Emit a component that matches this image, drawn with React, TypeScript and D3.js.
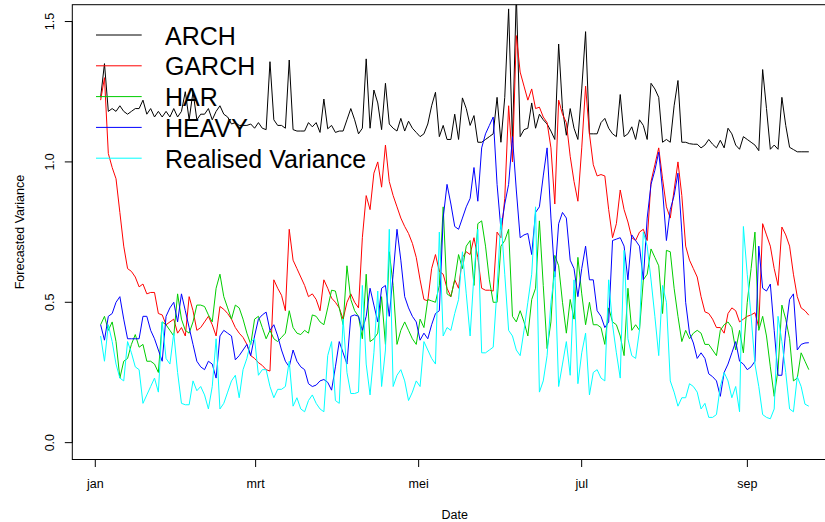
import React from 'react';
import * as d3 from 'd3';

const startDate = '2012-01-03';
const endDate = '2012-09-24';
const monthTicks = ['2012-01-01', '2012-03-01', '2012-05-01', '2012-07-01', '2012-09-01'];
const monthLabels = ['jan', 'mrt', 'mei', 'jul', 'sep'];
const yTicks = [0, 0.5, 1.0, 1.5];
const yLimits = [0, 1.5];
const seriesNames = ['ARCH', 'GARCH', 'HAR', 'HEAVY', 'Realised Variance'];
const seriesColors = ['#000000', '#FF0000', '#00CD00', '#0000FF', '#00FFFF'];

const arch = [
  1.23, 1.35, 1.18, 1.19, 1.18, 1.20, 1.18, 1.17, 1.18, 1.19,
  1.19, 1.22, 1.17, 1.19, 1.16, 1.18, 1.16, 1.18, 1.16, 1.19,
  1.16, 1.18, 1.25, 1.15, 1.25, 1.15, 1.17, 1.17, 1.19, 1.15,
  1.18, 1.20, 1.17, 1.16, 1.135, 1.14, 1.13, 1.13, 1.13, 1.135,
  1.12, 1.14, 1.12, 1.115, 1.357, 1.15, 1.13, 1.13, 1.12, 1.363,
  1.115, 1.11, 1.11, 1.11, 1.14, 1.125, 1.14, 1.105, 1.224, 1.118,
  1.13, 1.105, 1.11, 1.11, 1.15, 1.19, 1.15, 1.10, 1.12, 1.367,
  1.12, 1.256, 1.21, 1.115, 1.28, 1.135, 1.12, 1.11, 1.155, 1.11,
  1.145, 1.12, 1.105, 1.09, 1.10, 1.135, 1.20, 1.248, 1.09, 1.13,
  1.08, 1.08, 1.17, 1.08, 1.228, 1.19, 1.13, 1.165, 1.07, 1.07,
  1.08, 1.09, 1.10, 1.23, 1.07, 1.23, 1.545, 1.07, 1.60, 1.09,
  1.115, 1.12, 1.21, 1.12, 1.17, 1.15, 1.135, 1.11, 1.08, 1.42,
  1.19, 1.095, 1.19, 1.12, 1.08, 1.26, 1.464, 1.10, 1.10, 1.10,
  1.14, 1.155, 1.12, 1.10, 1.09, 1.24, 1.09, 1.10, 1.125, 1.08,
  1.15, 1.13, 1.08, 1.28, 1.26, 1.23, 1.07, 1.08, 1.07, 1.20,
  1.29, 1.07, 1.07, 1.065, 1.063, 1.063, 1.05, 1.06, 1.08, 1.063,
  1.05, 1.077, 1.05, 1.12, 1.10, 1.06, 1.045, 1.09, 1.08, 1.07,
  1.06, 1.04, 1.329, 1.19, 1.045, 1.06, 1.045, 1.23, 1.13, 1.052,
  1.044, 1.036, 1.036, 1.036, 1.036,
];

const garch = [
  1.22, 1.30, 1.03, 0.98, 0.94, 0.82, 0.70, 0.62, 0.61, 0.59,
  0.555, 0.565, 0.53, 0.535, 0.535, 0.46, 0.455, 0.42, 0.43, 0.44,
  0.39, 0.41, 0.38, 0.52, 0.47, 0.40, 0.41, 0.43, 0.45, 0.42,
  0.38, 0.485, 0.475, 0.46, 0.44, 0.41, 0.39, 0.375, 0.35, 0.31,
  0.30, 0.285, 0.275, 0.26, 0.255, 0.58, 0.55, 0.525, 0.47, 0.76,
  0.65, 0.62, 0.59, 0.56, 0.52, 0.53, 0.51, 0.47, 0.58, 0.55,
  0.515, 0.50, 0.48, 0.44, 0.50, 0.53, 0.50, 0.48, 0.73, 0.88,
  0.83, 0.96, 1.00, 0.91, 1.06, 0.93, 0.88, 0.84, 0.80, 0.77,
  0.745, 0.71, 0.66, 0.58, 0.51, 0.505, 0.62, 0.67, 0.61, 0.60,
  0.55, 0.52, 0.58, 0.55, 0.66, 0.68, 0.67, 0.73, 0.66, 0.55,
  0.543, 0.543, 0.54, 0.75, 0.73, 0.87, 1.20, 1.00, 1.45, 1.32,
  1.27, 1.22, 1.26, 1.19, 1.195, 1.16, 1.14, 1.05, 0.85, 1.22,
  1.17, 1.14, 1.02, 0.93, 0.86, 1.05, 1.27, 1.10, 0.99, 0.95,
  0.955, 0.95, 0.83, 0.73, 0.78, 0.90, 0.83, 0.786, 0.73, 0.72,
  0.75, 0.76, 0.72, 0.93, 0.99, 1.05, 0.94, 0.84, 0.80, 0.90,
  1.00, 0.88, 0.70, 0.65, 0.62, 0.59, 0.52, 0.466, 0.46, 0.44,
  0.41, 0.41, 0.39, 0.46, 0.48, 0.47, 0.43, 0.44, 0.45, 0.455,
  0.463, 0.41, 0.78, 0.74, 0.70, 0.62, 0.56, 0.768, 0.74, 0.70,
  0.60, 0.52, 0.48, 0.47, 0.454,
];

const har = [
  0.42, 0.45, 0.40, 0.43, 0.36, 0.23, 0.29, 0.30, 0.35, 0.385,
  0.34, 0.35, 0.29, 0.29, 0.28, 0.25, 0.43, 0.42, 0.40, 0.38,
  0.53, 0.44, 0.40, 0.39, 0.43, 0.49, 0.49, 0.485, 0.455, 0.43,
  0.55, 0.60, 0.52, 0.48, 0.44, 0.49, 0.48, 0.44, 0.39, 0.35,
  0.44, 0.45, 0.41, 0.37, 0.40, 0.37, 0.36, 0.375, 0.39, 0.47,
  0.41, 0.39, 0.385, 0.40, 0.39, 0.455, 0.45, 0.43, 0.42, 0.48,
  0.543, 0.54, 0.48, 0.42, 0.63, 0.51, 0.47, 0.45, 0.37, 0.60,
  0.36, 0.37, 0.39, 0.52, 0.35, 0.68, 0.56, 0.35, 0.40, 0.43,
  0.40, 0.37, 0.35, 0.44, 0.41, 0.51, 0.505, 0.50, 0.56, 0.84,
  0.53, 0.52, 0.58, 0.67, 0.62, 0.70, 0.72, 0.56, 0.78, 0.79,
  0.70, 0.58, 0.50, 0.50, 0.70, 0.72, 0.76, 0.45, 0.43, 0.47,
  0.43, 0.38, 0.51, 0.55, 0.79, 0.56, 0.335, 0.43, 0.667, 0.63,
  0.50, 0.39, 0.51, 0.44, 0.66, 0.53, 0.42, 0.50, 0.42, 0.42,
  0.41, 0.35, 0.48, 0.43, 0.42, 0.38, 0.31, 0.55, 0.40, 0.42,
  0.40, 0.58, 0.60, 0.69, 0.66, 0.63, 0.46, 0.685, 0.68, 0.55,
  0.45, 0.36, 0.40, 0.37, 0.39, 0.40, 0.39, 0.35, 0.35, 0.33,
  0.31, 0.40, 0.42, 0.43, 0.41, 0.33, 0.40, 0.32, 0.50, 0.62,
  0.75, 0.40, 0.45, 0.38, 0.27, 0.165, 0.26, 0.49, 0.44, 0.37,
  0.22, 0.23, 0.32, 0.29, 0.26,
];

const heavy = [
  0.42, 0.365, 0.45, 0.46, 0.50, 0.52, 0.44, 0.37, 0.37, 0.37,
  0.37, 0.45, 0.45, 0.40, 0.37, 0.33, 0.29, 0.45, 0.48, 0.50,
  0.43, 0.53, 0.47, 0.41, 0.35, 0.29, 0.27, 0.26, 0.29, 0.28,
  0.23, 0.38, 0.40, 0.39, 0.38, 0.295, 0.31, 0.33, 0.35, 0.31,
  0.38, 0.44, 0.455, 0.465, 0.40, 0.42, 0.38, 0.33, 0.29, 0.27,
  0.33, 0.29, 0.27, 0.26, 0.21, 0.20, 0.205, 0.22, 0.225, 0.215,
  0.187, 0.27, 0.36, 0.32, 0.28, 0.45, 0.455, 0.45, 0.40, 0.45,
  0.55, 0.49, 0.43, 0.55, 0.56, 0.45, 0.60, 0.76, 0.65, 0.52,
  0.48, 0.45, 0.43, 0.365, 0.39, 0.37, 0.42, 0.46, 0.47, 0.80,
  0.92, 0.85, 0.77, 0.76, 0.80, 0.84, 0.87, 0.98, 0.86, 1.05,
  1.10, 1.13, 1.16, 0.92, 0.76, 0.85, 0.92, 1.09, 0.90, 0.73,
  0.74, 0.745, 0.67, 0.82, 0.84, 0.95, 1.05, 0.80, 0.59, 0.78,
  0.82, 0.80, 0.65, 0.62, 0.52, 0.62, 0.70, 0.58, 0.58, 0.47,
  0.45, 0.41, 0.43, 0.72, 0.725, 0.73, 0.70, 0.58, 0.74, 0.72,
  0.70, 0.58, 0.80, 0.92, 0.97, 1.035, 0.90, 0.72, 0.83, 0.88,
  0.96, 0.75, 0.50, 0.39, 0.355, 0.30, 0.32, 0.30, 0.245, 0.235,
  0.22, 0.165, 0.25, 0.28, 0.32, 0.36, 0.29, 0.28, 0.26, 0.27,
  0.29, 0.70, 0.55, 0.54, 0.565, 0.40, 0.24, 0.24, 0.40, 0.51,
  0.53, 0.33, 0.35, 0.355, 0.356,
];

const realised = [
  0.38, 0.29, 0.42, 0.36, 0.28, 0.23, 0.22, 0.36, 0.32, 0.27,
  0.26, 0.14, 0.17, 0.20, 0.23, 0.18, 0.43, 0.30, 0.28, 0.39,
  0.25, 0.14, 0.135, 0.135, 0.22, 0.185, 0.20, 0.17, 0.12, 0.20,
  0.37, 0.12, 0.14, 0.18, 0.22, 0.24, 0.16, 0.26, 0.30, 0.36,
  0.37, 0.24, 0.26, 0.26, 0.20, 0.16, 0.19, 0.19, 0.20, 0.29,
  0.13, 0.16, 0.12, 0.11, 0.15, 0.17, 0.14, 0.12, 0.11, 0.31,
  0.36, 0.15, 0.14, 0.44, 0.25, 0.175, 0.175, 0.18, 0.56, 0.28,
  0.17, 0.32, 0.54, 0.20, 0.33, 0.76, 0.20, 0.24, 0.26, 0.22,
  0.15, 0.18, 0.22, 0.20, 0.36, 0.33, 0.30, 0.28, 0.75, 0.38,
  0.41, 0.40, 0.46, 0.51, 0.68, 0.53, 0.38, 0.60, 0.76, 0.32,
  0.32, 0.33, 0.34, 0.55, 0.80, 0.60, 0.40, 0.38, 0.33, 0.31,
  0.40, 0.50, 0.60, 0.84, 0.18, 0.22, 0.31, 0.50, 0.61, 0.20,
  0.28, 0.36, 0.24, 0.58, 0.21, 0.32, 0.39, 0.17, 0.25, 0.26,
  0.23, 0.22, 0.58, 0.42, 0.32, 0.23, 0.685, 0.37, 0.31, 0.30,
  0.40, 0.75, 0.70, 0.58, 0.45, 0.31, 0.56, 0.50, 0.22, 0.18,
  0.13, 0.16, 0.16, 0.21, 0.20, 0.18, 0.12, 0.14, 0.09, 0.09,
  0.10, 0.20, 0.25, 0.22, 0.16, 0.20, 0.11, 0.77, 0.60, 0.45,
  0.28, 0.20, 0.10, 0.09, 0.085, 0.12, 0.45, 0.36, 0.25, 0.12,
  0.11, 0.235, 0.20, 0.137, 0.13,
];

const allSeries = [arch, garch, har, heavy, realised];

const FONT = '"Liberation Sans", Arial, Helvetica, sans-serif';

export default function App() {
  const W = 825;
  const H = 522;
  const plotLeft = 72.3;
  const plotTop = 4.7;
  const plotBottom = 459.5;
  const dataPixelSpan = 708.2;

  const t0 = Date.parse(startDate);
  const t1 = Date.parse(endDate);
  const span = t1 - t0;
  const n = arch.length;
  const dates = d3.range(n).map((i) => new Date(t0 + (span * i) / (n - 1)));

  const x = d3
    .scaleUtc()
    .domain([new Date(t0 - 0.04 * span), new Date(t1 + 0.04 * span)])
    .range([plotLeft, plotLeft + 1.08 * dataPixelSpan]);
  const plotRight = x.range()[1];

  const yr = yLimits[1] - yLimits[0];
  const y = d3
    .scaleLinear()
    .domain([yLimits[0] - 0.04 * yr, yLimits[1] + 0.04 * yr])
    .range([plotBottom, plotTop]);

  const line = d3
    .line<number>()
    .x((_, i) => x(dates[i]))
    .y((d) => y(d));

  const fmt = d3.format('.1f');
  const tickLen = 7.5;
  const legendRows = seriesNames.map((_, i) => 35 + 30.8 * i);

  return (
    <svg
      width={W}
      height={H}
      viewBox={`0 0 ${W} ${H}`}
      style={{ position: 'absolute', left: 0, top: 0, background: '#ffffff' }}
      fontFamily={FONT}
    >
      <rect x={0} y={0} width={W} height={H} fill="#ffffff" />
      <defs>
        <clipPath id="plotClip">
          <rect x={plotLeft} y={plotTop} width={plotRight - plotLeft} height={plotBottom - plotTop} />
        </clipPath>
      </defs>

      <g clipPath="url(#plotClip)">
        {allSeries.map((s, k) => (
          <path key={seriesNames[k]} d={line(s) || ''} fill="none" stroke={seriesColors[k]} strokeWidth={1} />
        ))}
      </g>

      <rect
        x={plotLeft}
        y={plotTop}
        width={plotRight - plotLeft}
        height={plotBottom - plotTop}
        fill="none"
        stroke="#000"
        strokeWidth={1}
      />

      {/* y axis */}
      <line x1={plotLeft} x2={plotLeft} y1={y(yTicks[0])} y2={y(yTicks[yTicks.length - 1])} stroke="#000" />
      {yTicks.map((v) => (
        <g key={v}>
          <line x1={plotLeft - tickLen} x2={plotLeft} y1={y(v)} y2={y(v)} stroke="#000" />
          <text
            transform={`translate(53.5, ${y(v)}) rotate(-90)`}
            textAnchor="middle"
            fontSize={12.5}
            fill="#000"
          >
            {fmt(v)}
          </text>
        </g>
      ))}

      {/* x axis */}
      <line
        x1={x(new Date(Date.parse(monthTicks[0])))}
        x2={x(new Date(Date.parse(monthTicks[monthTicks.length - 1])))}
        y1={plotBottom}
        y2={plotBottom}
        stroke="#000"
      />
      {monthTicks.map((m, i) => {
        const px = x(new Date(Date.parse(m)));
        return (
          <g key={m}>
            <line x1={px} x2={px} y1={plotBottom} y2={plotBottom + tickLen} stroke="#000" />
            <text x={px} y={487.5} textAnchor="middle" fontSize={12.5} fill="#000">
              {monthLabels[i]}
            </text>
          </g>
        );
      })}

      <text x={(plotLeft + plotRight) / 2} y={518.5} textAnchor="middle" fontSize={12.5} fill="#000">
        Date
      </text>
      <text
        transform={`translate(24, ${(plotTop + plotBottom) / 2}) rotate(-90)`}
        textAnchor="middle"
        fontSize={12.5}
        fill="#000"
      >
        Forecasted Variance
      </text>

      {/* legend */}
      {seriesNames.map((name, i) => (
        <g key={name}>
          <line x1={96} x2={141.7} y1={legendRows[i]} y2={legendRows[i]} stroke={seriesColors[i]} strokeWidth={1} />
          <text x={165} y={legendRows[i] + 9.5} fontSize={25} fill="#000">
            {name}
          </text>
        </g>
      ))}
    </svg>
  );
}
